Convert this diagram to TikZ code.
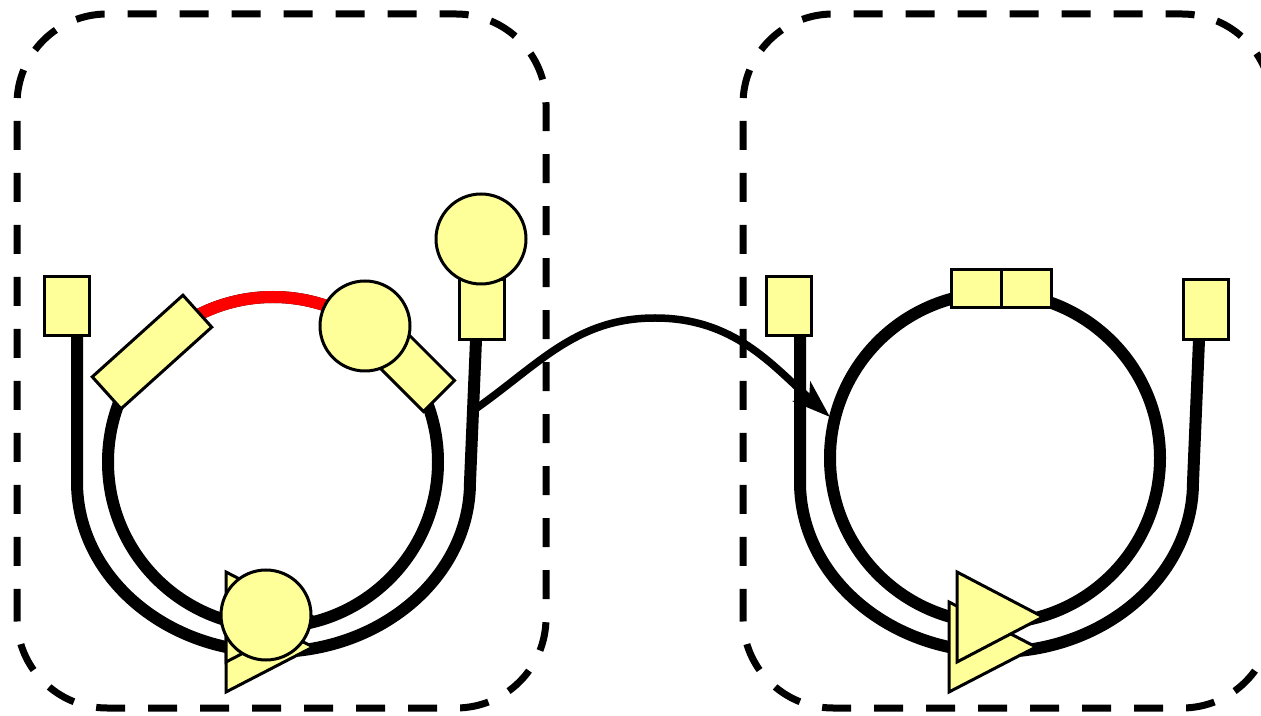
\documentclass[tikz,border=0pt]{standalone}
\usetikzlibrary{arrows.meta}
\definecolor{partyellow}{RGB}{255,255,153}
\begin{document}
\begin{tikzpicture}[x=1pt, y=1pt,
		fibre/.style={line width=12pt},
		signal/.style={line width=7.5pt, -{Stealth[length=38pt, width=26pt, inset=10pt]}},
		part/.style={draw, line width=3pt, fill=partyellow, inner sep=0pt},
		box/.style={part, rectangle},
		bulb/.style={part, circle, minimum size=90pt},
		frame/.style={line width=7pt, dash pattern=on 29pt off 23pt, rounded corners=90pt}]
		
		\useasboundingbox (0, 0) rectangle (1261, 715);
		
		% dashed frames
		\draw [frame] (17, 7) rectangle (546, 701);
		\draw [frame] (743, 7) rectangle (1272, 701);
		
		% left unit
		\draw [fibre] (77, 379) -- (77, 233) arc [start angle=180, end angle=360, x radius=196.5pt, y radius=170pt] -- (476, 375);
		\draw [fibre] (273, 253) circle [radius=165pt];
		\draw [fibre, red] (273, 253) ++(58:165pt) arc [start angle=58, end angle=138, radius=165pt];
		
		\draw [part] (226, 23) -- (226, 113) -- (313, 68) -- cycle;
		\draw [part] (226, 53) -- (226, 143) -- (313, 98) -- cycle;
		\node [bulb] (pumpL) at (266, 100) {};
		
		\node [box, minimum width=122pt, minimum height=43pt, rotate=42] (gainL) at (152, 363) {};
		\node [box, minimum width=96pt, minimum height=44pt, rotate=-45] (isoL) at (405, 353) {};
		\node [bulb] (coupL) at (365, 389) {};
		
		\node [box, minimum width=45pt, minimum height=59pt] (inL) at (66.5, 408.5) {};
		\node [box, minimum width=45pt, minimum height=60pt] (outL) at (481.5, 405) {};
		\node [bulb] (headL) at (481, 476) {};
		
		% right unit
		\draw [fibre] (800, 379) -- (800, 233) arc [start angle=180, end angle=360, x radius=196.5pt, y radius=170pt] -- (1199, 375);
		\draw [fibre] (995, 257) circle [radius=165pt];
		
		\draw [part] (949, 23) -- (949, 113) -- (1036, 68) -- cycle;
		\draw [part] (957, 53) -- (957, 143) -- (1043, 98) -- cycle;
		
		\node [box, minimum width=50pt, minimum height=38pt] (topA) at (976, 426) {};
		\node [box, minimum width=50pt, minimum height=38pt] (topB) at (1026, 426) {};
		
		\node [box, minimum width=45pt, minimum height=59pt] (inR) at (789, 408.5) {};
		\node [box, minimum width=45pt, minimum height=60pt] (outR) at (1205.5, 405) {};
		
		% link between the units
		\coordinate (tap) at (474, 305);
		\coordinate (crest) at (655, 397);
		\coordinate (inlet) at (830, 298);
		\draw [signal] (tap) to [out=35, in=180] (crest) to [out=0, in=138] (inlet);
		
	\end{tikzpicture}
\end{document}
